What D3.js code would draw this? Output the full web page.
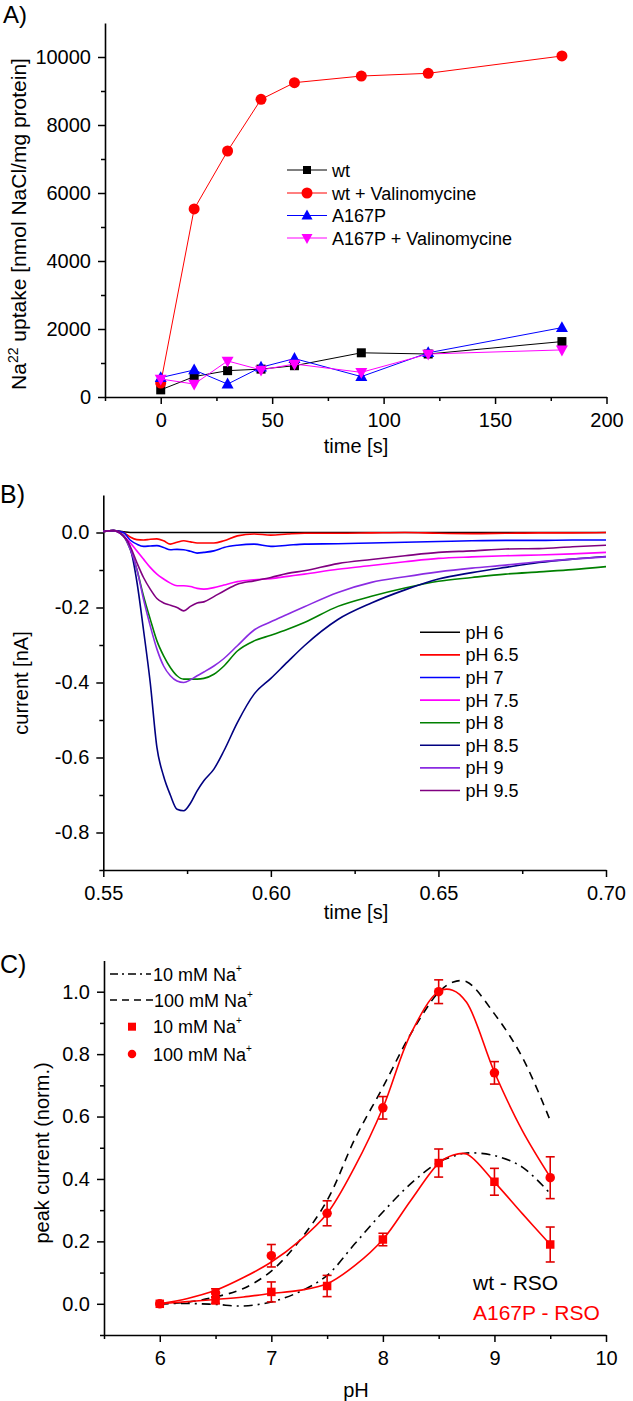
<!DOCTYPE html>
<html><head><meta charset="utf-8">
<script src="https://cdn.jsdelivr.net/npm/d3@7/dist/d3.min.js"></script>
<style>
html,body{margin:0;padding:0;background:#fff;}
svg{display:block;font-family:"Liberation Sans",Arial,sans-serif;}
</style></head>
<body>
<script>
// ---------- Panel A data ----------
const timeA = [0, 15, 30, 45, 60, 90, 120, 180];
const wtA = [210, 600, 775, 820, 920, 1300, 1265, 1630];
const wtValA = [410, 5530, 7235, 8755, 9245, 9440, 9520, 10030];
const a167pA = [570, 795, 380, 875, 1130, 600, 1300, 2040];
const a167pValA = [530, 380, 1060, 795, 970, 725, 1265, 1385];
const namesA = ["wt", "wt + Valinomycine", "A167P", "A167P + Valinomycine"];
const xTicksA = [0, 50, 100, 150, 200];
const yTicksA = [0, 2000, 4000, 6000, 8000, 10000];

// ---------- Panel B data ----------
const timeB = [0.550,0.553,0.556,0.558,0.560,0.562,0.564,0.566,0.568,0.570,0.572,0.574,0.576,0.578,0.580,0.583,0.586,0.590,0.595,0.600,0.605,0.610,0.620,0.630,0.640,0.650,0.660,0.670,0.680,0.690,0.700];
const pH6  = [0.003,0.005,0.002,0,0,0,0,0,0,0,0,0,0,0,0,0,0,0,0,0,0,0,0,0,0,0,0,0,0,0,0];
const pH65 = [0.003,0.005,0.0,-0.012,-0.019,-0.020,-0.018,-0.017,-0.022,-0.031,-0.026,-0.022,-0.025,-0.028,-0.028,-0.028,-0.022,-0.009,-0.004,-0.007,-0.004,-0.002,-0.002,-0.001,0.0,-0.002,-0.003,-0.002,-0.001,-0.001,0.0];
const pH7  = [0.003,0.005,0.0,-0.020,-0.031,-0.037,-0.036,-0.035,-0.040,-0.046,-0.045,-0.046,-0.050,-0.055,-0.053,-0.049,-0.040,-0.034,-0.031,-0.037,-0.034,-0.031,-0.030,-0.028,-0.026,-0.024,-0.022,-0.021,-0.021,-0.020,-0.020];
const pH75 = [0.003,0.005,-0.009,-0.027,-0.049,-0.071,-0.093,-0.111,-0.124,-0.135,-0.142,-0.142,-0.144,-0.149,-0.151,-0.147,-0.140,-0.131,-0.126,-0.123,-0.117,-0.111,-0.098,-0.088,-0.078,-0.069,-0.065,-0.062,-0.060,-0.057,-0.053];
const pH8  = [0.003,0.005,-0.009,-0.044,-0.098,-0.169,-0.231,-0.289,-0.329,-0.360,-0.382,-0.391,-0.391,-0.391,-0.389,-0.378,-0.356,-0.316,-0.289,-0.274,-0.258,-0.240,-0.197,-0.170,-0.148,-0.130,-0.120,-0.111,-0.105,-0.099,-0.091];
const pH85 = [0.003,0.005,-0.009,-0.040,-0.130,-0.260,-0.400,-0.573,-0.650,-0.700,-0.738,-0.742,-0.722,-0.689,-0.662,-0.631,-0.582,-0.507,-0.431,-0.389,-0.345,-0.302,-0.232,-0.188,-0.153,-0.124,-0.107,-0.093,-0.080,-0.071,-0.064];
const pH9  = [0.003,0.005,-0.009,-0.044,-0.098,-0.178,-0.249,-0.311,-0.356,-0.382,-0.396,-0.400,-0.393,-0.382,-0.372,-0.356,-0.336,-0.302,-0.260,-0.238,-0.218,-0.198,-0.160,-0.133,-0.118,-0.105,-0.095,-0.087,-0.078,-0.071,-0.065];
const pH95 = [0.003,0.005,-0.009,-0.036,-0.080,-0.120,-0.151,-0.176,-0.188,-0.194,-0.200,-0.209,-0.197,-0.188,-0.185,-0.171,-0.156,-0.138,-0.129,-0.120,-0.109,-0.102,-0.083,-0.072,-0.062,-0.053,-0.049,-0.044,-0.043,-0.038,-0.034];
const namesB = ["pH 6","pH 6.5","pH 7","pH 7.5","pH 8","pH 8.5","pH 9","pH 9.5"];
const xTicksB = [0.55, 0.60, 0.65, 0.70];
const yTicksB = [0.0, -0.2, -0.4, -0.6, -0.8];

// ---------- Panel C data ----------
const pHPts = [6, 6.5, 7, 7.5, 8, 8.5, 9, 9.5];
const mut100 = [0, 0.035, 0.154, 0.29, 0.628, 1.0, 0.74, 0.404];
const mut100Err = [0, 0.013, 0.036, 0.04, 0.036, 0.038, 0.036, 0.067];
const mut10 = [0, 0.011, 0.038, 0.057, 0.206, 0.451, 0.391, 0.19];
const mut10Err = [0, 0.01, 0.032, 0.034, 0.02, 0.045, 0.043, 0.056];
const pHFit = [6, 6.25, 6.5, 6.75, 7, 7.25, 7.5, 7.75, 8, 8.25, 8.5, 8.625, 8.75, 9, 9.25, 9.5];
const mut100Fit = [0, 0.017, 0.043, 0.084, 0.134, 0.201, 0.289, 0.44, 0.628, 0.865, 1.001, 1.005, 0.966, 0.742, 0.555, 0.406];
const mut10Fit = [0, 0.007, 0.014, 0.022, 0.033, 0.043, 0.064, 0.123, 0.206, 0.331, 0.45, 0.476, 0.48, 0.39, 0.289, 0.19];
const wt100Fit = [0, 0.005, 0.022, 0.049, 0.105, 0.201, 0.331, 0.529, 0.694, 0.865, 0.998, 1.03, 1.032, 0.929, 0.79, 0.587];
const wt10Fit = [0, 0.001, -0.002, -0.007, 0.006, 0.038, 0.091, 0.193, 0.294, 0.385, 0.454, 0.472, 0.483, 0.475, 0.438, 0.353];
const xTicksC = [6, 7, 8, 9, 10];
const yTicksC = [0, 0.2, 0.4, 0.6, 0.8, 1.0];

// ---------- drawing ----------
const FONT = '"Liberation Sans",Arial,sans-serif';
const svg = d3.select("body").append("svg").attr("width", 633).attr("height", 1401);
svg.append("rect").attr("width", 633).attr("height", 1401).attr("fill", "#fff");

function drawAxes(x, y, xMajor, xMinor, xFmt, yMajor, yMinor, yFmt) {
  const y0 = y.range()[0], x0 = x.range()[0];
  const gx = svg.append("g").attr("transform", `translate(0,${y0})`);
  gx.call(d3.axisBottom(x).tickValues(xMinor).tickFormat("").tickSize(4).tickSizeOuter(0));
  gx.select(".domain").remove();
  const gx2 = svg.append("g").attr("transform", `translate(0,${y0})`);
  gx2.call(d3.axisBottom(x).tickValues(xMajor).tickFormat(xFmt).tickSize(7).tickPadding(9).tickSizeOuter(0));
  const gy = svg.append("g").attr("transform", `translate(${x0},0)`);
  gy.call(d3.axisLeft(y).tickValues(yMinor).tickFormat("").tickSize(4).tickSizeOuter(0));
  gy.select(".domain").remove();
  const gy2 = svg.append("g").attr("transform", `translate(${x0},0)`);
  gy2.call(d3.axisLeft(y).tickValues(yMajor).tickFormat(yFmt).tickSize(7).tickPadding(7).tickSizeOuter(0));
  [gx, gx2, gy, gy2].forEach(g => {
    g.attr("font-family", FONT).attr("font-size", 20);
    g.selectAll("line").attr("stroke", "#000").attr("stroke-width", 1.5);
    g.selectAll(".domain").attr("stroke", "#000").attr("stroke-width", 1.6);
    g.selectAll("text").attr("fill", "#000");
  });
}

function text(x, y, s, size, opts = {}) {
  const t = svg.append("text").attr("x", x).attr("y", y).attr("font-size", size)
    .attr("font-family", FONT).attr("fill", opts.fill || "#000").text(s);
  if (opts.anchor) t.attr("text-anchor", opts.anchor);
  return t;
}

function marker(g, type, cx, cy, color, s) {
  if (type === "square") {
    g.append("rect").attr("x", cx - s / 2).attr("y", cy - s / 2).attr("width", s).attr("height", s).attr("fill", color);
  } else if (type === "circle") {
    g.append("circle").attr("cx", cx).attr("cy", cy).attr("r", s / 2).attr("fill", color);
  } else if (type === "up") {
    const h = s * 0.9;
    g.append("path").attr("d", `M${cx},${cy - h * 0.6}L${cx + s / 2},${cy + h * 0.4}L${cx - s / 2},${cy + h * 0.4}Z`).attr("fill", color);
  } else if (type === "down") {
    const h = s * 0.9;
    g.append("path").attr("d", `M${cx},${cy + h * 0.6}L${cx + s / 2},${cy - h * 0.4}L${cx - s / 2},${cy - h * 0.4}Z`).attr("fill", color);
  }
}

// ===== Panel A =====
{
  const x = d3.scaleLinear().domain([-25, 200]).range([105, 606.5]);
  const y = d3.scaleLinear().domain([0, 11000]).range([397, 23]);
  drawAxes(x, y, xTicksA, [-25, 25, 75, 125, 175], d => String(d),
           yTicksA, [1000, 3000, 5000, 7000, 9000], d => String(d));
  const series = [
    {v: wtA, c: "#000000", m: "square", s: 9},
    {v: wtValA, c: "#ff0000", m: "circle", s: 11},
    {v: a167pA, c: "#0000ff", m: "up", s: 12},
    {v: a167pValA, c: "#ff00ff", m: "down", s: 12}
  ];
  const line = d3.line().x((d, i) => x(timeA[i])).y(d => y(d));
  series.forEach(se => {
    svg.append("path").attr("d", line(se.v)).attr("fill", "none").attr("stroke", se.c).attr("stroke-width", 1);
    const g = svg.append("g");
    se.v.forEach((d, i) => marker(g, se.m, x(timeA[i]), y(d), se.c, se.s));
  });
  // legend
  const ly = [170, 193, 215.5, 238];
  series.forEach((se, i) => {
    svg.append("line").attr("x1", 287).attr("x2", 327).attr("y1", ly[i]).attr("y2", ly[i]).attr("stroke", se.c).attr("stroke-width", 1);
    marker(svg.append("g"), se.m, 307, ly[i], se.c, se.m === "square" ? 8 : 11);
    text(332, ly[i] + 6.5, namesA[i], 18);
  });
  text(356, 453, "time [s]", 20, {anchor: "middle"});
  const yl = svg.append("text").attr("transform", "translate(26,224) rotate(-90)")
    .attr("text-anchor", "middle").attr("font-family", FONT).attr("font-size", 21).attr("fill", "#000");
  yl.append("tspan").text("Na");
  yl.append("tspan").attr("font-size", 14).attr("dy", -8).text("22");
  yl.append("tspan").attr("dy", 8).text(" uptake [nmol NaCl/mg protein]");
  text(3, 23, "A)", 24);
}

// ===== Panel B =====
{
  const x = d3.scaleLinear().domain([0.55, 0.70]).range([103.3, 606]);
  const y = d3.scaleLinear().domain([-0.9, 0.1]).range([870, 495]);
  drawAxes(x, y, xTicksB, [0.575, 0.625, 0.675], d => d.toFixed(2),
           yTicksB, [-0.9, -0.7, -0.5, -0.3, -0.1], d => d.toFixed(1));
  const series = [pH6, pH65, pH7, pH75, pH8, pH85, pH9, pH95];
  const colors = ["#000000", "#ff0000", "#0000ff", "#ff00ff", "#008000", "#000080", "#8a2be2", "#800080"];
  const line = d3.line().x((d, i) => x(timeB[i])).y(d => y(d)).curve(d3.curveMonotoneX);
  series.forEach((s, i) => {
    svg.append("path").attr("d", line(s)).attr("fill", "none").attr("stroke", colors[i]).attr("stroke-width", 1.6);
  });
  const ly0 = 632.3, dy = 22.6;
  namesB.forEach((n, i) => {
    const yy = ly0 + i * dy;
    svg.append("line").attr("x1", 420).attr("x2", 460).attr("y1", yy).attr("y2", yy).attr("stroke", colors[i]).attr("stroke-width", 1.6);
    text(465.5, yy + 6.5, n, 18);
  });
  text(356, 919, "time [s]", 20, {anchor: "middle"});
  svg.append("text").attr("transform", "translate(28,683) rotate(-90)").attr("text-anchor", "middle")
    .attr("font-family", FONT).attr("font-size", 20).attr("fill", "#000").text("current [nA]");
  text(0, 503, "B)", 25);
}

// ===== Panel C =====
{
  const x = d3.scaleLinear().domain([5.5, 10]).range([104, 606]);
  const y = d3.scaleLinear().domain([-0.1, 1.1]).range([1335, 960.5]);
  drawAxes(x, y, xTicksC, [5.5, 6.5, 7.5, 8.5, 9.5], d => String(d),
           yTicksC, [-0.1, 0.1, 0.3, 0.5, 0.7, 0.9], d => d.toFixed(1));
  const fitLine = arr => d3.line().x((d, i) => x(pHFit[i])).y(d => y(d)).curve(d3.curveCatmullRom.alpha(0.5))(arr);
  svg.append("path").attr("d", fitLine(wt10Fit)).attr("fill", "none").attr("stroke", "#000").attr("stroke-width", 1.6).attr("stroke-dasharray", "9,5,2,5");
  svg.append("path").attr("d", fitLine(wt100Fit)).attr("fill", "none").attr("stroke", "#000").attr("stroke-width", 1.6).attr("stroke-dasharray", "8,6");
  svg.append("path").attr("d", fitLine(mut10Fit)).attr("fill", "none").attr("stroke", "#ff0000").attr("stroke-width", 1.6);
  svg.append("path").attr("d", fitLine(mut100Fit)).attr("fill", "none").attr("stroke", "#ff0000").attr("stroke-width", 1.6);
  const eb = svg.append("g").attr("stroke", "#e00000").attr("stroke-width", 1.6);
  function errBars(vals, errs) {
    vals.forEach((v, i) => {
      if (!errs[i]) return;
      const cx = x(pHPts[i]), t = y(v + errs[i]), b = y(v - errs[i]);
      eb.append("line").attr("x1", cx).attr("x2", cx).attr("y1", t).attr("y2", b);
      eb.append("line").attr("x1", cx - 4.5).attr("x2", cx + 4.5).attr("y1", t).attr("y2", t);
      eb.append("line").attr("x1", cx - 4.5).attr("x2", cx + 4.5).attr("y1", b).attr("y2", b);
    });
  }
  errBars(mut10, mut10Err);
  errBars(mut100, mut100Err);
  const gm = svg.append("g");
  mut10.forEach((v, i) => marker(gm, "square", x(pHPts[i]), y(v), "#ff0000", 8.5));
  mut100.forEach((v, i) => marker(gm, "circle", x(pHPts[i]), y(v), "#ff0000", 9.5));
  // legend
  svg.append("line").attr("x1", 110).attr("x2", 151).attr("y1", 974).attr("y2", 974).attr("stroke", "#000").attr("stroke-width", 1.6).attr("stroke-dasharray", "8,4,2,4");
  svg.append("line").attr("x1", 110).attr("x2", 154).attr("y1", 1000).attr("y2", 1000).attr("stroke", "#000").attr("stroke-width", 1.6).attr("stroke-dasharray", "7,5");
  marker(svg.append("g"), "square", 132, 1026.7, "#ff0000", 8);
  marker(svg.append("g"), "circle", 132, 1054, "#ff0000", 8.5);
  const legTxt = ["10 mM Na", "100 mM Na", "10 mM Na", "100 mM Na"];
  const legY = [974, 1000, 1026.7, 1054];
  legTxt.forEach((s, i) => {
    const t = text(i === 1 ? 154 : 153, legY[i] + 6.5, "", 18);
    t.append("tspan").text(s);
    t.append("tspan").attr("font-size", 10).attr("dy", -9).text("+");
  });
  text(473, 1290, "wt - RSO", 21);
  text(473, 1320, "A167P - RSO", 21, {fill: "#ff0000"});
  text(356, 1397, "pH", 20, {anchor: "middle"});
  svg.append("text").attr("transform", "translate(49,1153) rotate(-90)").attr("text-anchor", "middle")
    .attr("font-family", FONT).attr("font-size", 20).attr("fill", "#000").text("peak current (norm.)");
  text(0, 973, "C)", 25);
}
</script>
</body></html>
